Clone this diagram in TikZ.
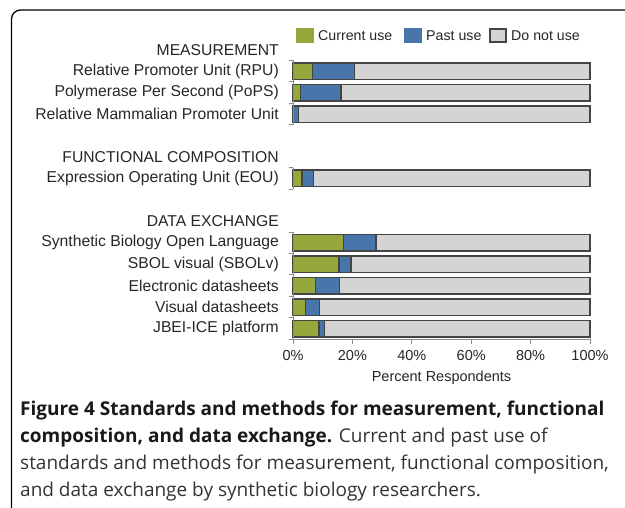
\documentclass[tikz,border=0pt]{standalone}
\usepackage{fontspec}
\setmainfont{Liberation Sans}
\newfontfamily\capfont{Open Sans}
\definecolor{curgreen}{RGB}{150,168,60}
\definecolor{pastblue}{RGB}{72,118,170}
\definecolor{notgray}{RGB}{212,212,212}
\definecolor{barline}{RGB}{68,68,68}
\definecolor{axisgray}{RGB}{140,140,140}
\tikzset{
  seg/.style={draw=barline,line width=1.4pt},
  lab/.style={anchor=east,inner sep=0pt,font=\fontsize{15.7}{18}\selectfont,text=black!85},
  legtext/.style={anchor=west,inner sep=0pt,font=\fontsize{14.2}{17}\selectfont,text=black!85},
  ticktext/.style={inner sep=0pt,font=\fontsize{14.5}{17}\selectfont,text=black!85},
  axisline/.style={draw=axisgray,line width=1pt}
}
\begin{document}
\begin{tikzpicture}[x=1pt,y=-1pt,line cap=butt]
  \useasboundingbox (0,0) rectangle (625,508);
  % frame round figure
  \draw[line width=1.3pt,rounded corners=9pt] (11.5,508) -- (11.5,10) -- (625,10);
  % legend
  \foreach \col/\edge/\txt/\xa/\nm in {curgreen/curgreen/Current use/297/cur,pastblue/pastblue/Past use/405/past,notgray/barline/Do not use/490/not}{
    \draw[fill=\col,draw=\edge,line width=1.2pt] (\xa,29) rectangle ++(16,13);
    \node[legtext] (leg\nm) at (\xa+21,36) {\txt};
  }
  % group headers
  \node[lab] (hdmeas) at (279,50) {MEASUREMENT};
  \node[lab] (hdfunc) at (279,157) {FUNCTIONAL COMPOSITION};
  \node[lab] (hddata) at (279,221.4) {DATA EXCHANGE};
  % bars: row/label/current/current+past
  \foreach \r/\lab/\g/\b in {0/Relative Promoter Unit (RPU)/6.6/20.8,1/Polymerase Per Second (PoPS)/2.6/16.2,2/Relative Mammalian Promoter Unit/0/1.8,5/Expression Operating Unit (EOU)/3/7,8/Synthetic Biology Open Language/17/28,9/SBOL visual (SBOLv)/15.5/19.5,10/Electronic datasheets/7.5/15.7,11/Visual datasheets/4.3/9,12/JBEI-ICE platform/8.8/10.7}{
    \pgfmathsetmacro\yc{60.5+21.45*(\r+0.5)}
    \node[lab] (lab\r) at (279,\yc) {\lab};
    \draw[seg,fill=notgray] (293+2.97*\b,\yc-8.3) rectangle (590,\yc+8.3);
    \draw[seg,fill=pastblue] (293+2.97*\g,\yc-8.3) rectangle (293+2.97*\b,\yc+8.3);
    \draw[seg,fill=curgreen] (293,\yc-8.3) rectangle (293+2.97*\g,\yc+8.3);
  }
  % category axis, only beside the bars
  \foreach \ra/\rb in {0/3,5/6,8/13}{
    \draw[axisline] (293,60.5+21.45*\ra) -- (293,60.5+21.45*\rb);
    \foreach \k in {\ra,...,\rb}
      \draw[axisline] (288.5,60.5+21.45*\k) -- (293,60.5+21.45*\k);
  }
  % value axis
  \draw[axisline] (293,339.35) -- (590,339.35);
  \foreach \p in {0,20,...,100}{
    \draw[axisline] (293+2.97*\p,339.35) -- (293+2.97*\p,344);
    \node[ticktext] (tick\p) at (293+2.97*\p,356) {\p\%};
  }
  \node[ticktext] (xtitle) at (441.5,378) {Percent Respondents};
  % caption (base = last line)
  \node[anchor=base west,inner sep=0pt,align=left,text=black!80,
        font=\capfont\fontsize{19}{26.7}\selectfont] (caption) at (20,496)
    {{\bfseries\color{black!90}Figure 4 Standards and methods for measurement, functional}\\
     {\bfseries\color{black!90}composition, and data exchange.} Current and past use of\\
     standards and methods for measurement, functional composition,\\
     and data exchange by synthetic biology researchers.};
\end{tikzpicture}
\end{document}
